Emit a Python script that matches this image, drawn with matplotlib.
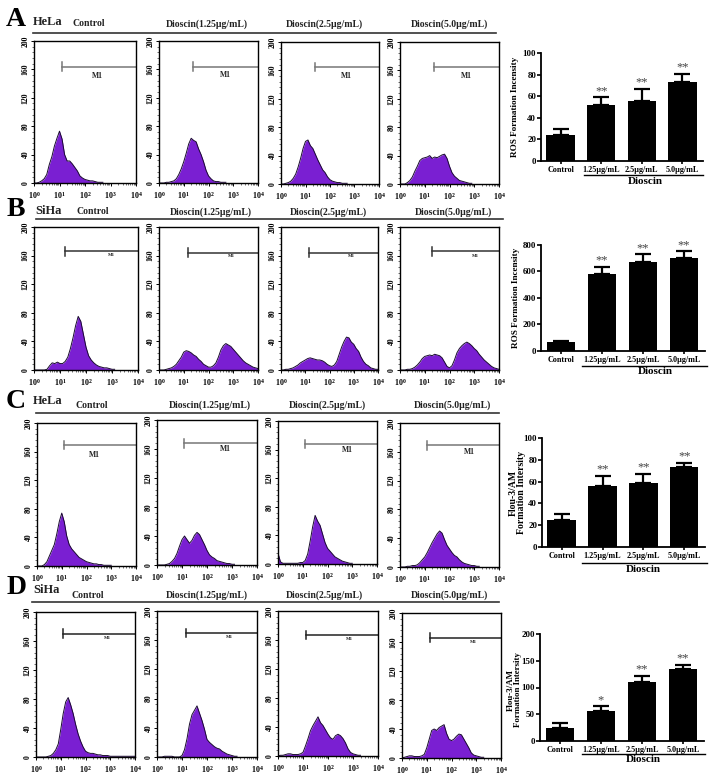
import numpy as np
import matplotlib
matplotlib.use('Agg')
import matplotlib.pyplot as plt
from matplotlib.ticker import LogLocator, NullFormatter, MultipleLocator

plt.rcParams['font.family'] = ['Liberation Serif', 'DejaVu Serif']
plt.rcParams['font.weight'] = 'bold'
plt.rcParams['mathtext.fontset'] = 'custom'
plt.rcParams['mathtext.rm'] = 'Liberation Serif:bold'
plt.rcParams['mathtext.default'] = 'rm'

W, H = 712, 781

# histogram counts, one value per 0.1 decade from 10^0 up
a1 = [0,0,1,3,6,12,26,37,52,63,73,62,40,31,31,27,22,17,10,7,5,4,3,3,2,1,1,1]
a2 = [0,0,0,1,1,2,3,6,12,20,30,42,55,63,60,58,48,40,30,18,10,6,3,2,2,1,1,1]
a3 = [0,0,1,2,4,8,14,24,36,50,60,62,54,50,42,34,27,20,16,10,6,4,3,2,2,1,1,1]
a4 = [0,0,0,2,5,10,18,25,33,36,37,38,40,36,38,37,39,41,42,36,25,16,11,8,5,4,3,2,1,1]
b1 = [0,0,0,0,0,1,6,10,9,11,9,9,12,18,30,45,62,75,68,50,32,20,14,10,7,5,4,3,3,2,1,1]
b2 = [0,0,0,1,2,3,5,8,13,18,25,27,26,24,21,19,15,12,8,6,4,4,6,10,18,28,34,37,35,33,29,25,21,17,13,10,8,6,4,3,2]
b3 = [0,0,1,1,2,3,5,7,10,12,14,16,17,16,15,14,14,13,11,8,6,5,7,12,22,32,40,46,45,39,36,30,26,18,12,8,6,3,2,1,1]
b4 = [0,0,0,1,1,2,4,7,11,16,19,20,21,20,22,21,20,17,11,5,3,6,14,24,30,34,37,39,37,34,30,27,22,18,14,11,8,5,3,2,1]
c1 = [0,0,0,2,6,14,22,30,45,62,74,62,42,30,24,20,16,12,10,8,6,5,4,3,3,2,2,1,1,1,1]
c2 = [0,0,0,0,1,2,5,9,16,26,35,40,35,30,34,41,45,42,35,28,20,14,11,9,6,5,4,3,2,2,1,1]
c3 = [15,3,1,1,1,1,1,1,1,2,2,5,14,32,52,68,60,54,42,30,22,18,14,10,8,6,4,3,2,1,1]
c4 = [0,0,0,1,1,2,2,3,6,10,14,20,27,34,40,46,50,47,38,30,25,20,16,14,10,7,5,4,3,2,2,1,1]
d1 = [0,0,0,0,0,1,2,5,10,18,38,60,76,82,72,60,45,32,22,14,8,6,5,5,4,3,3,2,2,2,1,1,1,1,1,1,1,1,1,1,1]
d2 = [0,0,0,1,1,1,1,0,0,0,2,10,25,45,58,64,70,60,50,38,24,20,17,14,12,11,8,6,4,3,2,1,1]
d3 = [0,1,1,2,3,3,2,2,2,3,5,14,24,35,42,48,54,46,42,36,30,25,23,28,30,28,24,18,10,5,3,2,1,1]
d4 = [0,1,2,3,3,2,2,2,3,5,14,26,38,40,38,42,44,46,34,26,24,26,30,33,32,26,20,14,7,4,3,2,1,1]

# M1 gate start (decades), gate height, label position
gate_a = [(1.08, 164, 2.49, 150), (1.37, 164, 2.67, 152), (1.37, 165, 2.68, 152), (1.38, 165, 2.70, 152)]
gate_b = [(1.19, 166, 2.99, 161), (1.18, 164, 2.94, 160), (1.15, 164, 2.90, 160), (1.28, 166, 3.06, 160)]
gate_c = [(1.08, 169, 2.33, 155), (1.08, 168, 2.72, 160), (1.08, 168, 2.79, 160), (1.10, 169, 2.82, 160)]
gate_d = [(1.11, 170, 2.87, 164), (1.16, 170, 2.88, 164), (1.10, 167, 2.85, 162), (1.14, 166, 2.88, 160)]

# bar charts
doses = ['Control', '1.25μg/mL', '2.5μg/mL', '5.0μg/mL']
ros_hela = [24, 52, 56, 73]
ros_hela_err = [6, 7, 11, 8]
ros_siha = [65, 583, 675, 700]
ros_siha_err = [13, 52, 55, 52]
flou_hela = [25, 56, 59, 73]
flou_hela_err = [5.5, 9.5, 8, 4.5]
flou_siha = [25, 56, 110, 135]
flou_siha_err = [9, 9, 12, 7]
stars_abc = ['', '**', '**', '**']
stars_d = ['', '*', '**', '**']

titles = ['Control', 'Dioscin(1.25μg/mL)', 'Dioscin(2.5μg/mL)', 'Dioscin(5.0μg/mL)']

fig = plt.figure(figsize=(W / 100, H / 100), dpi=100)
overlay = fig.add_axes([0, 0, 1, 1], zorder=5)
overlay.set_xlim(0, W)
overlay.set_ylim(H, 0)
overlay.axis('off')


def px_axes(left, top, right, bottom):
    return fig.add_axes([left / W, 1 - bottom / H, (right - left) / W, (bottom - top) / H])


def histogram(box, counts, gate, gate_color, small_label):
    ax = px_axes(*box)
    x = 10 ** (np.arange(len(counts)) * 0.1)
    ax.fill_between(x, counts, color='#7a1fd2', lw=0)
    ax.plot(x, counts, color='#1a0a30', lw=0.7)
    ax.set_xscale('log')
    ax.set_xlim(1, 1e4)
    ax.set_ylim(0, 200)
    ax.set_xticks([1, 10, 100, 1000, 10000])
    ax.set_xticklabels(['10$^{%d}$' % i for i in range(5)], fontsize=5.8)
    ax.xaxis.set_minor_locator(LogLocator(base=10, subs=np.arange(2, 10), numticks=10))
    ax.xaxis.set_minor_formatter(NullFormatter())
    ax.set_yticks([0, 40, 80, 120, 160, 200])
    ax.set_yticklabels(['0', '40', '80', '120', '160', '200'], rotation=90, va='center', fontsize=5.6)
    ax.yaxis.set_minor_locator(MultipleLocator(8))
    ax.tick_params(which='major', length=2.2, width=0.7, pad=1)
    ax.tick_params(which='minor', length=1.2, width=0.4)
    ax.tick_params(axis='x', which='major', pad=2.5)
    for s in ax.spines.values():
        s.set_linewidth(1.0)
    start, level, lx, ly = gate
    ax.plot([10 ** start, 1e4], [level, level], color=gate_color, lw=1.1)
    ax.plot([10 ** start, 10 ** start], [level - 6, level + 6], color=gate_color, lw=1.1)
    ax.text(10 ** lx, ly, 'M1', ha='center', va='center', fontsize=3.5 if small_label else 5.5,
            color='#222222')


def bar_panel(box, values, errs, stars, ymax, step, ylabel, ylabel_x, ylabel_y, fontsize):
    ax = px_axes(*box)
    pos = np.arange(len(values))
    ax.bar(pos, values, width=0.7, color='black')
    ax.errorbar(pos, values, yerr=[np.zeros(len(errs)), errs], fmt='none', ecolor='black',
                elinewidth=1.6, capsize=5.5, capthick=1.6)
    ax.set_xlim(-0.484, 3.51)
    ax.set_ylim(0, ymax)
    ax.set_xticks(pos)
    ax.set_xticklabels(doses, fontsize=5.9)
    ax.set_yticks(np.arange(0, ymax + 1, step))
    ax.tick_params(axis='y', labelsize=6.4, length=3, width=1.2, pad=0.5)
    ax.tick_params(axis='x', length=2.5, width=1.2, pad=1.2)
    ax.spines['top'].set_visible(False)
    ax.spines['right'].set_visible(False)
    ax.spines['left'].set_linewidth(1.3)
    ax.spines['bottom'].set_linewidth(1.3)
    for i, s in enumerate(stars):
        if s:
            ax.annotate(s, (pos[i], values[i] + errs[i]), xytext=(0, 4.6), textcoords='offset points',
                        ha='center', va='center', fontsize=9, color='#444444', fontweight='normal')
    overlay.text(ylabel_x, ylabel_y, ylabel, rotation=90, ha='center', va='center',
                 fontsize=fontsize, linespacing=0.9)


rows = [
    dict(letter='A', cell='HeLa', letter_pos=(16, 19), cell_pos=(48, 22), title_y=24,
         title_x=[89, 207, 324, 449], rule=(33, 496, 33),
         boxes=[(34, 41, 136, 183), (159, 41, 258, 183), (281, 42, 379, 184), (400, 42, 499, 184)],
         hists=[a1, a2, a3, a4], gates=gate_a, gate_color='#777777', small=False),
    dict(letter='B', cell='SiHa', letter_pos=(16, 210), cell_pos=(48, 211), title_y=212,
         title_x=[93, 211, 328, 453], rule=(36, 503, 219),
         boxes=[(34, 227, 138, 370), (159, 227, 258, 370), (281, 227, 378, 370), (400, 227, 499, 370)],
         hists=[b1, b2, b3, b4], gates=gate_b, gate_color='#333333', small=True),
    dict(letter='C', cell='HeLa', letter_pos=(16, 401), cell_pos=(48, 401), title_y=405,
         title_x=[92, 210, 327, 452], rule=(36, 499, 413),
         boxes=[(37, 423, 136, 566), (157, 420, 257, 565), (278, 421, 377, 564), (400, 423, 499, 567)],
         hists=[c1, c2, c3, c4], gates=gate_c, gate_color='#777777', small=False),
    dict(letter='D', cell='SiHa', letter_pos=(17, 588), cell_pos=(47, 590), title_y=595,
         title_x=[88, 207, 324, 449], rule=(32, 499, 602),
         boxes=[(36, 612, 135, 757), (157, 611, 257, 757), (278, 611, 378, 756), (402, 613, 501, 758)],
         hists=[d1, d2, d3, d4], gates=gate_d, gate_color='#222222', small=True),
]

for row in rows:
    overlay.text(*row['letter_pos'], row['letter'], fontsize=20, ha='center', va='center')
    overlay.text(*row['cell_pos'], row['cell'], fontsize=9, ha='center', va='center', color='#222222')
    for tx, t in zip(row['title_x'], titles):
        overlay.text(tx, row['title_y'], t, fontsize=7.0, ha='center', va='center', color='#222222')
    x0, x1, y = row['rule']
    overlay.plot([x0, x1], [y, y], color='#333333', lw=1.2)
    for box, counts, gate in zip(row['boxes'], row['hists'], row['gates']):
        histogram(box, counts, gate, row['gate_color'], row['small'])

bar_panel((541, 53, 703, 161), ros_hela, ros_hela_err, stars_abc, 100, 20,
          'ROS Formation Incensity', 515, 107, 6.6)
bar_panel((541, 245, 705, 351), ros_siha, ros_siha_err, stars_abc, 800, 200,
          'ROS Formation Incensity', 516, 298, 6.6)
bar_panel((542, 438, 705, 547), flou_hela, flou_hela_err, stars_abc, 100, 20,
          'Flou-3/AM\nFormation Intersity', 517.5, 493, 7.0)
bar_panel((540, 634, 704, 741), flou_siha, flou_siha_err, stars_d, 200, 50,
          'Flou-3/AM\nFormation Intersity', 514.5, 690, 6.4)

# Dioscin brackets under the bar charts
for x0, x1, y, tx, ty in [(584, 703, 175, 645, 182), (582, 707, 366, 655, 372),
                          (582, 707, 563, 643, 569), (582, 705, 754, 643, 760)]:
    overlay.plot([x0, x1], [y, y], color='black', lw=1.0)
    overlay.text(tx, ty, 'Dioscin', fontsize=8, ha='center', va='center')

fig.savefig('out.png', dpi=100)
